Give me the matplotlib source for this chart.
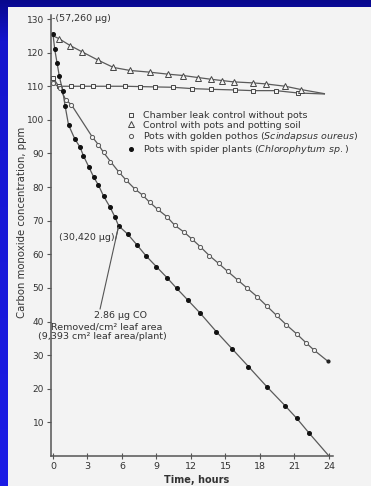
import numpy as np
import matplotlib
matplotlib.use("Agg")
import matplotlib.pyplot as plt
from matplotlib.patches import Rectangle

# ---------------- data ----------------
hours_leak = [0, 0.5, 1.6, 2.5, 3.5, 4.8, 6.3, 7.6, 8.9, 10.4, 12.1, 13.7, 15.8, 17.4, 19.4, 21.3, 23.6]
co_leak = [112.5, 110, 110, 110, 110, 110, 110, 109.9, 109.8, 109.7, 109.3, 109.1, 108.9, 108.7, 108.7, 108.0, 107.7]

hours_soil = [0, 0.5, 1.5, 2.5, 3.9, 5.25, 6.7, 8.4, 10.0, 11.3, 12.6, 13.7, 14.7, 15.7, 17.4, 18.5, 20.2, 21.6, 23.6]
co_soil = [125, 124.2, 122.1, 120.3, 117.8, 115.6, 114.7, 114.2, 113.6, 113.2, 112.6, 112.1, 111.7, 111.3, 111.0, 110.7, 110.0, 109.0, 107.8]

hours_pothos = [0, 0.6, 1.1, 1.6, 3.4, 3.95, 4.4, 5.0, 5.7, 6.35, 7.1, 7.8, 8.4, 9.1, 9.9, 10.6, 11.4,
                12.1, 12.8, 13.6, 14.4, 15.2, 16.05, 16.9, 17.75, 18.6, 19.45, 20.3, 21.2, 22.0, 22.7, 23.9]
co_pothos = [111, 109.5, 106, 104.5, 95, 92.6, 90.3, 87.6, 84.6, 82.1, 79.5, 77.6, 75.5, 73.4, 71.2, 68.6, 66.6,
             64.5, 62.3, 59.6, 57.3, 54.9, 52.4, 49.9, 47.4, 44.6, 41.8, 39.0, 36.3, 33.7, 31.5, 28.2]

hours_spider = [0, 0.15, 0.35, 0.55, 0.85, 1.05, 1.35, 1.9, 2.35, 2.65, 3.1, 3.55, 3.95, 4.4, 4.95, 5.4, 5.7,
                6.5, 7.3, 8.1, 9.0, 9.9, 10.75, 11.75, 12.8, 14.2, 15.6, 17.0, 18.6, 20.2, 21.2, 22.3, 24.0]
co_spider = [125.5, 121, 117, 113, 108.5, 104.2, 98.5, 94.3, 91.9, 89.3, 86.1, 82.9, 80.6, 77.3, 74.1, 71.0, 68.5,
             66.0, 62.8, 59.5, 56.3, 53.1, 49.9, 46.3, 42.5, 37.0, 31.8, 26.6, 20.6, 14.9, 11.2, 6.7, 0]

labels = ['Chamber leak control without pots',
          'Control with pots and potting soil',
          r'Pots with golden pothos $\mathit{(Scindapsus\ oureus)}$',
          r'Pots with spider plants $\mathit{(Chlorophytum\ sp.)}$']

x_ticks = [0, 3, 6, 9, 12, 15, 18, 21, 24]
y_ticks = [10, 20, 30, 40, 50, 60, 70, 80, 90, 100, 110, 120, 130]

# ---------------- figure ----------------
W, H = 371, 486
fig = plt.figure(figsize=(W / 100, H / 100), dpi=100)

# blue gradient background
bg = fig.add_axes([0, 0, 1, 1], zorder=-10)
rows = np.linspace(0, H, 200)
r = np.interp(rows, [0, 40, H], [8, 20, 28])
g = np.interp(rows, [0, 40, H], [8, 20, 28])
b = np.interp(rows, [0, 40, H], [140, 205, 230])
grad = np.stack([r, g, b], axis=1)[:, None, :] / 255.0
bg.imshow(grad, aspect='auto', extent=[0, 1, 0, 1], origin='upper')
bg.set_axis_off()

# light panel
fig.patches.append(Rectangle((8 / W, 0), 1 - 8 / W, (H - 7) / H, transform=fig.transFigure,
                             facecolor='#f3f3f3', edgecolor='none', zorder=-5))

ax = fig.add_axes([51 / W, (H - 456) / H, 282 / W, (456 - 15) / H])
ax.patch.set_alpha(0)
ax.set_xlim(-0.174, 24.35)
ax.set_ylim(0, 131.2)

line_c = '#5a5a5a'
txt_c = '#333333'
lw = 0.9

l1, = ax.plot(hours_leak, co_leak, color=line_c, lw=lw, marker='s', ms=3.2, mfc='#f3f3f3',
              mec='#444444', mew=0.7, markevery=list(range(len(hours_leak) - 1)))
l2, = ax.plot(hours_soil, co_soil, color=line_c, lw=lw, marker='^', ms=3.8, mfc='#f3f3f3',
              mec='#444444', mew=0.7, markevery=list(range(1, len(hours_soil) - 1)))
l3, = ax.plot(hours_pothos, co_pothos, color=line_c, lw=lw, marker='o', ms=3.0, mfc='#f3f3f3',
              mec='#555555', mew=0.7, markevery=list(range(len(hours_pothos) - 1)))
ax.plot(hours_pothos[-1:], co_pothos[-1:], ls='none', marker='o', ms=2, color='#222222')
l4, = ax.plot(hours_spider, co_spider, color=line_c, lw=lw, marker='o', ms=2.6, mfc='#111111',
              mec='#111111', markevery=list(range(len(hours_spider) - 1)))

for s in ['top', 'right']:
    ax.spines[s].set_visible(False)
for s in ['left', 'bottom']:
    ax.spines[s].set_color('#555555')
    ax.spines[s].set_linewidth(1.1)

ax.set_xticks(x_ticks)
ax.set_xticklabels([str(t) for t in x_ticks])
ax.set_yticks(y_ticks)
ax.set_yticklabels([str(t) for t in y_ticks])
ax.tick_params(axis='x', direction='inout', length=4, width=0.8, colors='#555555', labelsize=6.8,
               labelcolor=txt_c, pad=2)
ax.tick_params(axis='y', direction='out', length=3, width=0.8, colors='#555555', labelsize=6.5,
               labelcolor=txt_c, pad=2)

leg = ax.legend([l1, l2, l3, l4], labels, loc='upper left',
                bbox_to_anchor=(128.4 / W, (H - 111.5) / H), bbox_transform=fig.transFigure,
                frameon=False, borderpad=0, borderaxespad=0, handlelength=0.6, handletextpad=0.9,
                labelspacing=0.02, fontsize=6.8, markerscale=1.0)
for h in leg.legend_handles:
    h.set_linestyle('none')
for t in leg.get_texts():
    t.set_color(txt_c)

# annotations
ax.text(-0.05, 130.3, '-(57,260 \u03bcg)', ha='left', va='center', fontsize=6.8, color=txt_c)
ax.text(5.39, 65.1, '(30,420 \u03bcg)', ha='right', va='center', fontsize=6.8, color=txt_c)
ax.annotate('', xy=(5.68, 68.0), xytext=(5.43, 64.3),
            arrowprops=dict(arrowstyle='-', color='#555555', lw=0.8, shrinkA=0, shrinkB=0))
ax.annotate('', xy=(5.68, 68.0), xytext=(4.09, 43.7),
            arrowprops=dict(arrowstyle='-', color='#555555', lw=0.8, shrinkA=0, shrinkB=0))
ax.text(5.83, 41.9, '2.86 \u03bcg CO', ha='center', va='center', fontsize=6.8, color=txt_c)
ax.text(4.67, 38.5, 'Removed/cm\u00b2 leaf area', ha='center', va='center', fontsize=6.8, color=txt_c)
ax.text(4.3, 35.7, '(9,393 cm\u00b2 leaf area/plant)', ha='center', va='center', fontsize=6.8, color=txt_c)

fig.text(22 / W, (H - 222) / H, 'Carbon monoxide concentration, ppm', rotation=90,
         ha='center', va='center', fontsize=7.3, color=txt_c)
fig.text(197 / W, (H - 480) / H, 'Time, hours', ha='center', va='center', fontsize=7,
         fontweight='bold', color=txt_c)

fig.savefig('out.png', dpi=100)
